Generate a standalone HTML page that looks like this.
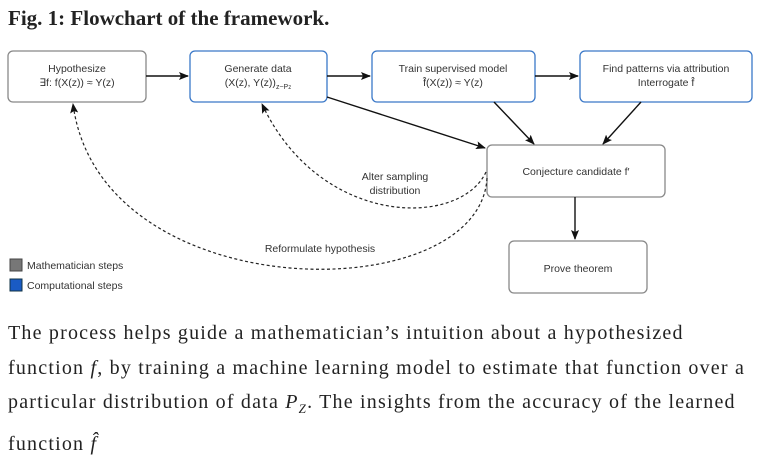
<!DOCTYPE html>
<html><head><meta charset="utf-8"><style>
body{margin:0;width:761px;height:455px;background:#fff;overflow:hidden;font-family:"Liberation Serif",serif;}
.t{position:absolute;left:8px;top:6px;font-size:21px;font-weight:bold;color:#222;}
.p{position:absolute;left:8px;top:316px;width:760px;font-size:20px;line-height:34.5px;color:#222;white-space:nowrap;letter-spacing:1.2px}
svg{position:absolute;left:0;top:0}
</style></head><body>
<div class="t">Fig. 1: Flowchart of the framework.</div>
<svg width="761" height="310" font-family="Liberation Sans, sans-serif" font-size="10.5" fill="#333">
<defs><marker id="a" markerWidth="10" markerHeight="8" refX="9" refY="4" orient="auto" markerUnits="userSpaceOnUse"><path d="M0,0 L10,4 L0,8 L2,4z" fill="#111"/></marker></defs>
<g fill="#fff" stroke-width="1.3">
<rect x="8" y="51" width="138" height="51" rx="5" stroke="#888"/>
<rect x="190" y="51" width="137" height="51" rx="5" stroke="#3a78c8"/>
<rect x="372" y="51" width="163" height="51" rx="5" stroke="#3a78c8"/>
<rect x="580" y="51" width="172" height="51" rx="5" stroke="#3a78c8"/>
<rect x="487" y="145" width="178" height="52" rx="5" stroke="#888"/>
<rect x="509" y="241" width="138" height="52" rx="5" stroke="#888"/>
</g>
<g stroke="#111" stroke-width="1.4" fill="none" marker-end="url(#a)">
<line x1="146" y1="76" x2="188" y2="76"/>
<line x1="327" y1="76" x2="370" y2="76"/>
<line x1="535" y1="76" x2="578" y2="76"/>
<line x1="327" y1="97" x2="485" y2="148"/>
<line x1="494" y1="102" x2="534" y2="144"/>
<line x1="641" y1="102" x2="603" y2="144"/>
<line x1="575" y1="197" x2="575" y2="239"/>
</g>
<g stroke="#222" stroke-width="1.2" fill="none" stroke-dasharray="3,2.5" marker-end="url(#a)">
<path d="M486,172 C460,228 320,228 262,104"/>
<path d="M487,178 C480,310 100,310 73,104"/>
</g>
<g text-anchor="middle">
<text x="77" y="72">Hypothesize</text><text x="77" y="86">∃f: f(X(z)) ≈ Y(z)</text>
<text x="258" y="72">Generate data</text><text x="258" y="86">(X(z), Y(z))<tspan font-size="7" dy="3">z~P<tspan font-size="6">z</tspan></tspan></text>
<text x="453" y="72">Train supervised model</text><text x="453" y="86">f̂(X(z)) ≈ Y(z)</text>
<text x="666" y="72">Find patterns via attribution</text><text x="666" y="86">Interrogate f̂</text>
<text x="576" y="175">Conjecture candidate f′</text>
<text x="578" y="272">Prove theorem</text>
<text x="395" y="180">Alter sampling</text><text x="395" y="194">distribution</text>
<text x="320" y="252">Reformulate hypothesis</text>
</g>
<rect x="10" y="259" width="12" height="12" fill="#777" stroke="#444"/>
<rect x="10" y="279" width="12" height="12" fill="#1a5bc4" stroke="#134"/>
<text x="27" y="269">Mathematician steps</text>
<text x="27" y="289">Computational steps</text>
</svg>
<div class="p">The process helps guide a mathematician’s intuition about a hypothesized<br>function <i>f</i>, by training a machine learning model to estimate that function over a<br>particular distribution of data <i>P<sub style="font-size:13px">Z</sub></i>. The insights from the accuracy of the learned<br>function <i>f̂</i></div>
</body></html>
